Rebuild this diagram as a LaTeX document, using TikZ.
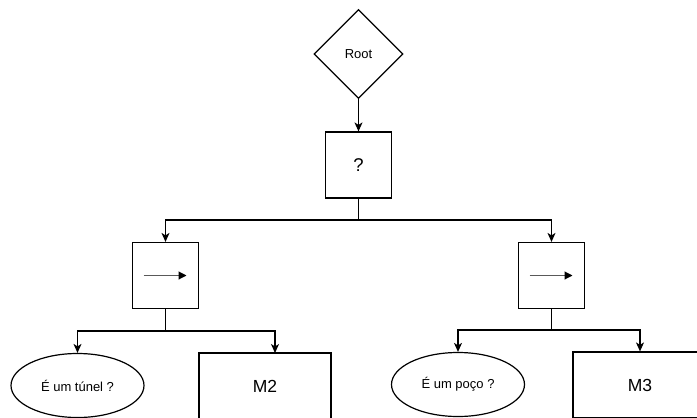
\documentclass[tikz,border=0pt]{standalone}
\usepackage{fontspec}
\setmainfont{Liberation Sans}
\usetikzlibrary{shapes.geometric,arrows.meta,calc}
\begin{document}
\begin{tikzpicture}[x=1pt,y=-1pt,
  line width=1.2pt,
  arr/.style={-{Stealth[length=9pt,width=8pt,inset=2.5pt]}},
  box/.style={draw,rectangle,inner sep=0pt,minimum width=#1,minimum height=66pt},
  box/.default=66pt,
  oval/.style={draw,ellipse,inner sep=0pt,minimum width=133pt,minimum height=64pt,font=\fontsize{13}{15}\selectfont},
  seq/.style={box},
  big/.style={font=\fontsize{17.5}{20}\selectfont},
  small/.style={font=\fontsize{13}{15}\selectfont}]
  \useasboundingbox (0,0) rectangle (697,418);
  \clip (0,0) rectangle (697,418);

  % nodes
  \node[draw,diamond,inner sep=0pt,minimum width=89pt,minimum height=89pt,small] (root) at (358.5,54) {Root};
  \node[box,font=\fontsize{18.5}{20}\selectfont] (sel) at (358.5,165) {?};
  \node[seq] (lseq) at (165.5,275.5) {};
  \node[seq] (rseq) at (551.5,275.5) {};
  \node[oval] (tunel) at (77.5,385.5) {É um túnel ?};
  \node[oval] (poco) at (458,384.5) {É um poço ?};
  \node[box=132pt,big] (m2) at (265,386) {M2};
  \node[box=134pt,big] (m3) at (640,385) {M3};

  % sequence symbols inside the boxes
  \foreach \n in {lseq,rseq}{
    \draw[line width=1.1pt,gray!70!black,-{Triangle[length=8pt,width=8pt,fill=black,color=black]}]
      ($(\n.center)+(-22,0)$) -- ($(\n.center)+(21,0)$);
  }

  % junction points
  \coordinate (j0) at (358.5,220);
  \coordinate (j1) at (165.5,331);
  \coordinate (j2) at (551.5,330);
  \coordinate (m2in) at (275,353);

  % connectors
  \draw[arr] (root.south) -- (sel.north);
  \draw[arr] (sel.south) -- (j0) -| (lseq.north);
  \draw[arr] (j0) -| (rseq.north);
  \draw[arr] (lseq.south) -- (j1) -| (tunel.north);
  \draw[arr] (j1) -| (m2in);
  \draw[arr] (rseq.south) -- (j2) -| (poco.north);
  \draw[arr] (j2) -| (m3.north);
\end{tikzpicture}
\end{document}
